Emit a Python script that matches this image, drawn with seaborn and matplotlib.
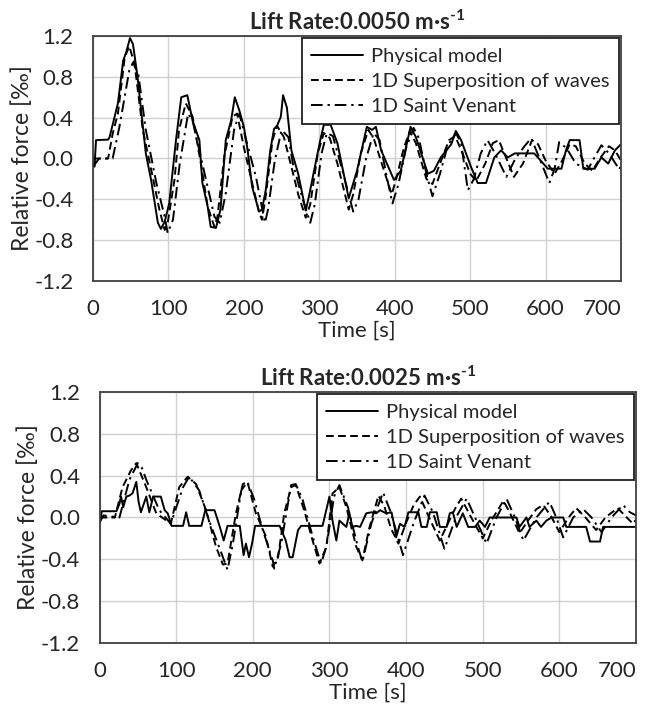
import matplotlib
matplotlib.use('Agg')
import matplotlib.pyplot as plt
import numpy as np
import pandas as pd
import seaborn as sns

# ---- data (time [s], relative force [permil]) ----
top_phys_t = [0, 2, 4, 20, 22, 33, 40, 44, 49, 53, 59, 70, 77, 86, 90, 95, 101, 110, 117, 125,
              132, 141, 145, 152, 156, 163, 169, 176, 183, 188, 194, 200, 205, 211, 216, 220, 224,
              229, 235, 240, 244, 249, 252, 257, 263, 272, 282, 286, 301, 306, 315, 324, 339, 350,
              363, 370, 375, 382, 399, 408, 421, 428, 444, 452, 461, 475, 481, 488, 501, 510, 521,
              532, 541, 550, 559, 585, 603, 621, 627, 632, 645, 650, 665, 674, 683, 692, 700]
top_phys_y = [-0.05, -0.08, 0.18, 0.185, 0.21, 0.54, 0.96, 1.04, 1.18, 1.12, 0.80, 0.05, -0.21,
              -0.63, -0.69, -0.62, -0.44, 0.18, 0.60, 0.62, 0.37, 0.18, -0.24, -0.47, -0.67, -0.68,
              -0.50, 0.18, 0.37, 0.60, 0.47, 0.31, 0.08, -0.28, -0.41, -0.52, -0.50, -0.31, 0.08,
              0.29, 0.32, 0.41, 0.62, 0.50, 0.08, -0.15, -0.51, -0.38, 0.17, 0.33, 0.33, 0.15, -0.39,
              -0.12, 0.31, 0.28, 0.31, 0.08, -0.21, -0.12, 0.31, 0.21, -0.15, -0.12, 0.01, 0.14,
              0.27, 0.18, -0.08, -0.24, -0.24, 0.01, 0.08, 0.01, 0.05, 0.05, -0.10, -0.10, 0.08,
              0.18, 0.18, -0.10, -0.10, 0.01, -0.05, 0.08, 0.14]

top_sup_t = [0, 4, 20, 26, 33, 42, 48, 55, 66, 80, 88, 95, 99, 108, 114, 123, 132, 143, 152, 161,
             165, 174, 185, 191, 200, 211, 220, 224, 229, 238, 244, 253, 262, 272, 282, 288, 298,
             306, 314, 324, 339, 345, 355, 365, 372, 385, 396, 402, 412, 420, 428, 442, 450, 460,
             472, 480, 490, 500, 508, 520, 530, 538, 548, 558, 570, 582, 590, 600, 612, 622, 632,
             640, 652, 662, 672, 684, 692, 700]
top_sup_y = [0.0, 0.0, 0.0, 0.24, 0.44, 0.99, 1.10, 0.93, 0.28, -0.21, -0.50, -0.70, -0.63, -0.21,
             0.28, 0.54, 0.41, -0.05, -0.47, -0.67, -0.57, 0.02, 0.41, 0.44, 0.11, -0.24, -0.52,
             -0.60, -0.37, 0.18, 0.32, 0.21, -0.05, -0.35, -0.58, -0.45, 0.05, 0.25, 0.20, -0.05,
             -0.50, -0.35, 0.05, 0.28, 0.20, -0.10, -0.35, -0.20, 0.10, 0.27, 0.15, -0.20, -0.25,
             -0.05, 0.18, 0.22, 0.05, -0.15, -0.22, -0.05, 0.15, 0.18, 0.0, -0.18, -0.05, 0.18,
             0.14, -0.02, -0.15, -0.02, 0.14, 0.12, -0.05, -0.12, 0.0, 0.12, 0.08, -0.02]

top_sv_t = [0, 8, 26, 35, 48, 53, 60, 70, 84, 95, 99, 106, 115, 126, 132, 148, 161, 168, 176, 187,
            194, 203, 216, 228, 232, 241, 250, 259, 265, 278, 288, 294, 303, 310, 318, 330, 345,
            352, 362, 372, 380, 390, 397, 405, 415, 425, 432, 442, 450, 460, 470, 481, 488, 497,
            505, 514, 523, 533, 548, 560, 572, 581, 592, 605, 612, 618, 628, 640, 656, 664, 674,
            684, 698, 700]
top_sv_y = [-0.08, 0.0, 0.0, 0.31, 0.86, 0.94, 0.83, 0.28, -0.24, -0.57, -0.73, -0.60, -0.05,
            0.44, 0.37, -0.15, -0.57, -0.63, -0.34, 0.28, 0.44, 0.18, -0.18, -0.63, -0.50, -0.02,
            0.28, 0.21, -0.05, -0.40, -0.63, -0.45, 0.05, 0.25, 0.22, -0.10, -0.52, -0.40, 0.0,
            0.25, 0.18, -0.20, -0.44, -0.25, 0.10, 0.30, 0.20, -0.15, -0.37, -0.15, 0.12, 0.25,
            0.15, -0.31, -0.20, 0.05, 0.18, 0.05, -0.18, 0.0, 0.12, 0.20, 0.0, -0.24, -0.10, 0.16,
            0.10, -0.05, -0.11, 0.0, 0.13, 0.05, -0.11, -0.05]

bot_phys_t = [0, 3, 22, 26, 28, 31, 35, 39, 43, 48, 51, 54, 61, 65, 70, 80, 85, 89, 94, 109, 113,
              117, 133, 138, 150, 157, 162, 167, 183, 188, 191, 195, 199, 203, 235, 243, 248, 252,
              259, 263, 291, 300, 304, 309, 313, 322, 326, 330, 335, 340, 348, 355, 361, 366, 374,
              381, 385, 387, 392, 398, 403, 416, 420, 427, 431, 440, 444, 453, 457, 461, 466, 474,
              481, 490, 496, 503, 509, 544, 548, 557, 561, 570, 576, 583, 590, 605, 609, 635, 640,
              653, 657, 700]
bot_phys_y = [-0.06, 0.06, 0.06, 0.13, 0.20, 0.10, 0.20, 0.21, 0.23, 0.34, 0.15, 0.05, 0.20, 0.05,
              0.20, 0.20, 0.07, 0.04, -0.08, -0.08, 0.05, -0.08, -0.08, 0.07, 0.07, -0.09, -0.22,
              -0.08, -0.08, -0.36, -0.25, -0.38, -0.25, -0.08, -0.08, -0.22, -0.38, -0.38, -0.12,
              -0.08, -0.08, 0.20, -0.03, -0.22, -0.03, -0.09, 0.04, -0.09, -0.08, -0.09, 0.04, 0.05,
              0.04, 0.07, 0.04, 0.05, -0.09, -0.19, -0.06, -0.09, 0.05, 0.05, -0.09, -0.09, 0.05,
              0.05, -0.09, -0.09, 0.04, 0.05, -0.09, 0.04, -0.09, -0.09, -0.03, -0.09, 0.0, 0.0,
              -0.09, 0.0, -0.09, -0.03, -0.09, -0.03, 0.0, 0.0, -0.09, -0.09, -0.23, -0.23, -0.09,
              -0.09]

bot_sup_t = [0, 20, 30, 41, 48, 61, 74, 93, 104, 115, 126, 139, 152, 161, 167, 178, 187, 193, 204,
             217, 226, 233, 241, 250, 256, 267, 278, 287, 296, 304, 313, 322, 335, 343, 352, 364,
             372, 380, 390, 400, 410, 418, 430, 444, 455, 465, 472, 485, 500, 512, 527, 535, 548,
             560, 570, 579, 590, 600, 612, 622, 634, 648, 660, 676, 688, 696, 700]
bot_sup_y = [0.0, 0.0, 0.29, 0.45, 0.52, 0.29, 0.04, -0.06, 0.29, 0.39, 0.32, 0.07, -0.28, -0.45,
             -0.44, 0.04, 0.32, 0.34, 0.04, -0.18, -0.47, -0.38, 0.04, 0.29, 0.31, 0.07, -0.22,
             -0.44, -0.28, 0.23, 0.29, 0.10, -0.28, -0.41, -0.10, 0.21, 0.10, -0.10, -0.25, -0.05,
             0.12, 0.20, 0.0, -0.22, -0.05, 0.10, 0.18, 0.0, -0.20, -0.02, 0.16, 0.05, -0.15, -0.02,
             0.08, 0.12, 0.0, -0.14, 0.0, 0.09, 0.0, -0.12, 0.0, 0.09, 0.0, -0.06, -0.02]

bot_sv_t = [0, 5, 26, 39, 50, 55, 61, 78, 93, 109, 117, 130, 143, 159, 167, 174, 185, 193, 202,
            213, 226, 228, 237, 250, 256, 265, 278, 289, 296, 306, 313, 324, 337, 343, 355, 370,
            380, 396, 410, 424, 435, 450, 465, 479, 490, 505, 518, 531, 542, 553, 570, 587, 596,
            605, 618, 631, 642, 655, 668, 683, 692, 700]
bot_sv_y = [-0.05, 0.02, 0.0, 0.36, 0.52, 0.48, 0.36, 0.07, -0.06, 0.29, 0.39, 0.26, -0.03, -0.34,
            -0.50, -0.25, 0.26, 0.34, 0.17, -0.12, -0.41, -0.49, -0.25, 0.31, 0.32, 0.17, -0.18,
            -0.44, -0.28, 0.20, 0.31, 0.10, -0.28, -0.42, -0.05, 0.24, 0.05, -0.36, -0.05, 0.21,
            0.05, -0.30, 0.0, 0.18, 0.0, -0.25, 0.0, 0.18, 0.0, -0.22, 0.0, 0.15, 0.0, -0.19, 0.0,
            0.08, 0.0, -0.14, 0.0, 0.12, 0.05, 0.02]

titles = [r'Lift Rate:0.0050 m·s$^{\text{-1}}$', r'Lift Rate:0.0025 m·s$^{\text{-1}}$']
series_names = ['Physical model', '1D Superposition of waves', '1D Saint Venant']
x_ticks = [0, 100, 200, 300, 400, 500, 600, 700]
y_ticks = [-1.2, -0.8, -0.4, 0.0, 0.4, 0.8, 1.2]

sns.set_style('whitegrid')
plt.rcParams['font.family'] = ['Lato', 'DejaVu Sans']
plt.rcParams['mathtext.fontset'] = 'custom'
plt.rcParams['mathtext.rm'] = 'Lato:bold'
plt.rcParams['mathtext.bf'] = 'Lato:bold'

fig = plt.figure(figsize=(6.5, 7.13), dpi=100)
ax_top = fig.add_axes([0.1431, 0.6059, 0.8123, 0.3436])
ax_bot = fig.add_axes([0.1531, 0.0982, 0.8254, 0.3520])

panels = [
    (ax_top, [(top_phys_t, top_phys_y), (top_sup_t, top_sup_y), (top_sv_t, top_sv_y)]),
    (ax_bot, [(bot_phys_t, bot_phys_y), (bot_sup_t, bot_sup_y), (bot_sv_t, bot_sv_y)]),
]
styles = ['-', (0, (4, 2.2)), (0, (6, 2.5, 1.2, 2.5))]

for i, (ax, series) in enumerate(panels):
    for (t, y), name, ls in zip(series, series_names, styles):
        df = pd.DataFrame({'t': t, 'y': y})
        sns.lineplot(data=df, x='t', y='y', ax=ax, color='black', linestyle=ls,
                     linewidth=1.4, label=name, estimator=None, sort=False)
    ax.set_xlim(0, 700)
    ax.set_ylim(-1.2, 1.2)
    ax.set_xticks(x_ticks)
    ax.set_yticks(y_ticks)
    ax.set_yticklabels(['%.1f' % v for v in y_ticks])
    ax.tick_params(axis='x', labelsize=16, length=0, pad=13)
    ax.tick_params(axis='y', labelsize=16, length=0, pad=14)
    ax.xaxis.get_ticklabels()[-1].set_horizontalalignment('right')
    ax.grid(True, color='#d0d0d0', linewidth=1.0)
    for sp in ax.spines.values():
        sp.set_color('#404040')
        sp.set_linewidth(1.3)
    ax.set_xlabel('Time [s]', fontsize=16, labelpad=1)
    ax.set_ylabel('Relative force [‰]', fontsize=16.5, labelpad=1)
    ax.set_title(titles[i], fontsize=16, fontweight='bold', pad=4)
    leg = ax.legend(loc='upper right', fontsize=14.5, handlelength=2.6, frameon=True,
                    fancybox=False, borderaxespad=0.12, labelspacing=0.4,
                    borderpad=0.45, handletextpad=0.4)
    leg.get_frame().set_edgecolor('#202020')
    leg.get_frame().set_linewidth(1.3)
    leg.get_frame().set_alpha(1)

fig.savefig('out.png', dpi=100)
